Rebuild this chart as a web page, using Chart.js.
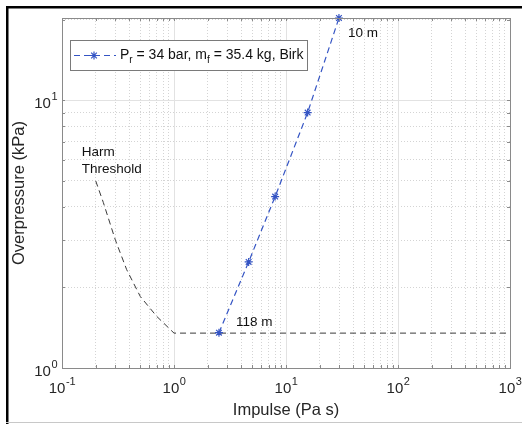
<!DOCTYPE html>
<html>
<head>
<meta charset="utf-8">
<script src="https://cdn.jsdelivr.net/npm/chart.js@4.4.1/dist/chart.umd.min.js"></script>
<style>
    html, body { margin: 0; padding: 0; background: #fff; }
</style>
</head>
<body>
<canvas id="chart" width="522" height="424"></canvas>
<script>
// Birk series (10 m ... 118 m): impulse in Pa s, overpressure in kPa
const birkImpulse = [2.52, 4.64, 8.0, 15.6, 29.7];
const birkPressure = [1.355, 2.49, 4.37, 9.0, 20.3];

// Harm threshold curve
const harmImpulse = [0.2, 0.234, 0.3, 0.378, 0.5, 0.7, 1.0, 1000];
const harmPressure = [5.0, 4.15, 3.0, 2.33, 1.85, 1.56, 1.35, 1.35];

// Axes
const xDecades = [-1, 0, 1, 2, 3];
const yDecades = [0, 1];
const xRange = [0.1, 1000];
const yRange = [1, 20.3];

const legendLabel = ['P', 'r', ' = 34 bar, m', 'f', ' = 35.4 kg, Birk'];
const harmLabel = ['Harm', 'Threshold'];
const nearLabel = '10 m';
const farLabel = '118 m';
const xTitle = 'Impulse (Pa s)';
const yTitle = 'Overpressure (kPa)';

const FONT = '"Liberation Sans", Arial, Helvetica, sans-serif';
const BLUE = 'rgb(52, 84, 196)';
const AXIS = '#8a8a8a';
const TEXT = '#262626';

// 1..9 x 10^n within the range
function logGrid(min, max) {
    const out = [];
    for (let e = Math.floor(Math.log10(min)); e <= Math.ceil(Math.log10(max)); e++) {
        for (let m = 1; m <= 9; m++) {
            const v = m * Math.pow(10, e);
            if (v >= min * 0.999 && v <= max * 1.001) out.push(v);
        }
    }
    return out;
}

function isMajor(v) {
    const l = Math.log10(v);
    return Math.abs(l - Math.round(l)) < 1e-6;
}

const toPoints = (xs, ys) => xs.map((x, i) => ({ x: x, y: ys[i] }));

// minor grid (dotted) comes from Chart.js, majors are drawn solid by the plugin
function gridOpts() {
    return {
        drawTicks: false,
        color: ctx => isMajor(ctx.tick.value) ? 'rgba(0,0,0,0)' : '#d4d4d4',
        lineWidth: 1
    };
}

function borderOpts() {
    return { display: false, dash: [1, 2] };
}

// power of ten label: "10" with raised exponent
function drawPow(ctx, exp, x, y, align) {
    const base = '10';
    const sup = String(exp);
    ctx.font = '15px ' + FONT;
    const wb = ctx.measureText(base).width;
    ctx.font = '11px ' + FONT;
    const ws = ctx.measureText(sup).width;
    let left = x;
    if (align === 'center') left = x - (wb + ws) / 2;
    if (align === 'right') left = x - wb - ws;
    ctx.fillStyle = TEXT;
    ctx.textBaseline = 'middle';
    ctx.textAlign = 'left';
    ctx.font = '15px ' + FONT;
    ctx.fillText(base, left, y);
    ctx.font = '11px ' + FONT;
    ctx.fillText(sup, left + wb + 0.5, y - 7);
}

const decorPlugin = {
    id: 'decor',
    beforeDraw(chart) {
        const ctx = chart.ctx;
        ctx.save();
        ctx.fillStyle = '#fff';
        ctx.fillRect(0, 0, chart.width, chart.height);
        // outer frame
        ctx.fillStyle = '#000';
        ctx.fillRect(6, 6, chart.width - 6, 2.5);
        ctx.fillRect(6, 6, 2.5, chart.height - 6);
        ctx.fillStyle = '#c8c8c8';
        ctx.fillRect(6, chart.height - 2, chart.width - 6, 1);
        ctx.restore();
    },
    beforeDatasetsDraw(chart) {
        const ctx = chart.ctx;
        const a = chart.chartArea;
        const xs = chart.scales.x;
        const ys = chart.scales.y;
        ctx.save();
        ctx.strokeStyle = '#e2e2e2';
        ctx.lineWidth = 1;
        ctx.beginPath();
        xDecades.forEach(e => {
            const px = Math.round(xs.getPixelForValue(Math.pow(10, e))) + 0.5;
            ctx.moveTo(px, a.top); ctx.lineTo(px, a.bottom);
        });
        yDecades.forEach(e => {
            const py = Math.round(ys.getPixelForValue(Math.pow(10, e))) + 0.5;
            ctx.moveTo(a.left, py); ctx.lineTo(a.right, py);
        });
        ctx.stroke();
        ctx.restore();
    },
    afterDraw(chart) {
        const ctx = chart.ctx;
        const a = chart.chartArea;
        const xs = chart.scales.x;
        const ys = chart.scales.y;
        ctx.save();

        // axes box
        ctx.strokeStyle = AXIS;
        ctx.lineWidth = 1;
        ctx.strokeRect(Math.round(a.left) + 0.5, Math.round(a.top) + 0.5,
            Math.round(a.right - a.left), Math.round(a.bottom - a.top));

        // inward tick marks on all four sides
        const len = 3;
        ctx.beginPath();
        logGrid(xRange[0], xRange[1]).forEach(v => {
            const px = Math.round(xs.getPixelForValue(v)) + 0.5;
            ctx.moveTo(px, a.bottom); ctx.lineTo(px, a.bottom - len);
            ctx.moveTo(px, a.top); ctx.lineTo(px, a.top + len);
        });
        logGrid(yRange[0], yRange[1]).forEach(v => {
            const py = Math.round(ys.getPixelForValue(v)) + 0.5;
            ctx.moveTo(a.left, py); ctx.lineTo(a.left + len, py);
            ctx.moveTo(a.right, py); ctx.lineTo(a.right - len, py);
        });
        ctx.stroke();

        // tick labels
        xDecades.forEach(e => drawPow(ctx, e, xs.getPixelForValue(Math.pow(10, e)), a.bottom + 21, 'center'));
        yDecades.forEach(e => drawPow(ctx, e, a.left - 5, ys.getPixelForValue(Math.pow(10, e)) + 4, 'right'));

        // axis titles
        ctx.fillStyle = TEXT;
        ctx.font = '16.5px ' + FONT;
        ctx.textAlign = 'center';
        ctx.textBaseline = 'middle';
        ctx.fillText(xTitle, (a.left + a.right) / 2, a.bottom + 42);
        ctx.save();
        ctx.translate(19, (a.top + a.bottom) / 2);
        ctx.rotate(-Math.PI / 2);
        ctx.fillText(yTitle, 0, 0);
        ctx.restore();

        // annotations
        ctx.fillStyle = '#111';
        ctx.font = '13.5px ' + FONT;
        ctx.textAlign = 'left';
        const top = chart.getDatasetMeta(0).data[birkImpulse.length - 1];
        const low = chart.getDatasetMeta(0).data[0];
        ctx.fillText(nearLabel, top.x + 9, top.y + 15);
        ctx.fillText(farLabel, low.x + 17, low.y - 10);
        const h = chart.getDatasetMeta(1).data[0];
        ctx.fillText(harmLabel[0], h.x - 14, h.y - 29);
        ctx.fillText(harmLabel[1], h.x - 14, h.y - 12);

        // legend box
        const lx = 70, ly = 40, lw = 237, lh = 30;
        ctx.fillStyle = '#fff';
        ctx.fillRect(lx, ly, lw, lh);
        ctx.strokeStyle = '#7a7a7a';
        ctx.strokeRect(lx + 0.5, ly + 0.5, lw, lh);
        const cy = ly + 15.5;
        ctx.strokeStyle = BLUE;
        ctx.lineWidth = 1.2;
        ctx.setLineDash([6, 4]);
        ctx.beginPath();
        ctx.moveTo(74, cy); ctx.lineTo(116, cy);
        ctx.stroke();
        ctx.setLineDash([]);
        Chart.helpers.drawPoint(ctx, { pointStyle: 'star', radius: 4, rotation: 0, borderWidth: 1.2 }, 94, cy);

        // legend text with subscripts
        let tx = 120;
        ctx.fillStyle = '#111';
        ctx.textBaseline = 'middle';
        legendLabel.forEach((s, i) => {
            const sub = i % 2 === 1;
            ctx.font = (sub ? '10px ' : '14px ') + FONT;
            ctx.fillText(s, tx, sub ? cy + 5 : cy);
            tx += ctx.measureText(s).width;
        });

        ctx.restore();
    }
};

new Chart(document.getElementById('chart'), {
    type: 'line',
    data: {
        datasets: [
            {
                label: 'Birk',
                data: toPoints(birkImpulse, birkPressure),
                borderColor: BLUE,
                backgroundColor: BLUE,
                borderWidth: 1.2,
                borderDash: [6, 4],
                pointStyle: 'star',
                pointRadius: 4,
                pointBorderWidth: 1.2,
                pointBorderColor: BLUE,
                tension: 0,
                clip: false
            },
            {
                label: 'Harm Threshold',
                data: toPoints(harmImpulse, harmPressure),
                borderColor: '#3a3a3a',
                borderWidth: 1,
                borderDash: [6, 4],
                pointRadius: 0,
                tension: 0
            }
        ]
    },
    options: {
        responsive: false,
        animation: false,
        layout: { padding: { left: 62, right: 12, top: 18, bottom: 56 } },
        plugins: {
            legend: { display: false },
            tooltip: { enabled: false }
        },
        scales: {
            x: {
                type: 'logarithmic',
                min: xRange[0],
                max: xRange[1],
                afterBuildTicks: axis => { axis.ticks = logGrid(xRange[0], xRange[1]).map(v => ({ value: v })); },
                ticks: { display: false },
                grid: gridOpts(),
                border: borderOpts()
            },
            y: {
                type: 'logarithmic',
                min: yRange[0],
                max: yRange[1],
                afterBuildTicks: axis => { axis.ticks = logGrid(yRange[0], yRange[1]).map(v => ({ value: v })); },
                ticks: { display: false },
                grid: gridOpts(),
                border: borderOpts()
            }
        }
    },
    plugins: [decorPlugin]
});
</script>
</body>
</html>
